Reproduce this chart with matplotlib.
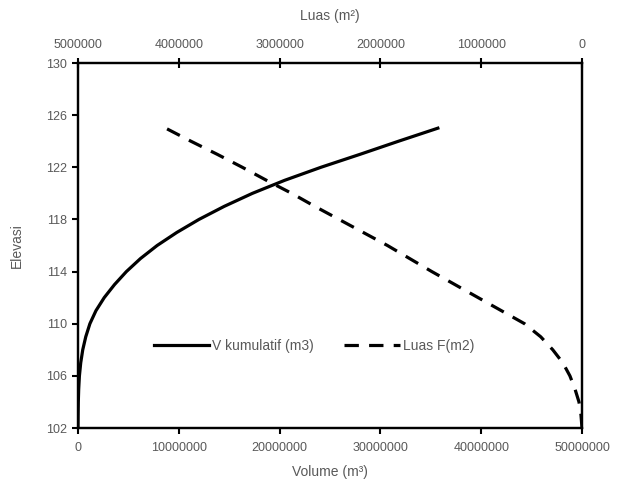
import matplotlib
matplotlib.use("Agg")
import matplotlib.pyplot as plt
from matplotlib.ticker import FuncFormatter

elevasi = [102, 103, 104, 105, 106, 107, 108, 109, 110, 111, 112, 113,
           114, 115, 116, 117, 118, 119, 120, 121, 122, 123, 124, 125]
volume = [0, 0.01e6, 0.03e6, 0.07e6, 0.14e6, 0.27e6, 0.47e6, 0.77e6, 1.18e6,
          1.78e6, 2.6e6, 3.62e6, 4.8e6, 6.2e6, 7.85e6, 9.8e6, 12.0e6, 14.5e6,
          17.3e6, 20.5e6, 24.1e6, 28.0e6, 31.8e6, 35.7e6]
luas = [0, 0.01e6, 0.03e6, 0.07e6, 0.12e6, 0.19e6, 0.29e6, 0.41e6, 0.57e6,
        0.80e6, 1.03e6, 1.26e6, 1.49e6, 1.71e6, 1.93e6, 2.17e6, 2.41e6,
        2.65e6, 2.88e6, 3.13e6, 3.37e6, 3.62e6, 3.88e6, 4.13e6]

vol_ticks = [0, 10000000, 20000000, 30000000, 40000000, 50000000]
luas_ticks = [5000000, 4000000, 3000000, 2000000, 1000000, 0]
elev_ticks = [102, 106, 110, 114, 118, 122, 126, 130]

plt.rcParams['font.family'] = ['Liberation Sans', 'DejaVu Sans']
txt = '#595959'

fig = plt.figure(figsize=(6.24, 4.91), dpi=100)
ax = fig.add_axes([78/624, 1 - 428/491, 504/624, 365/491])
ax2 = ax.twiny()

l1, = ax.plot(volume, elevasi, color='black', lw=2.3, label='V kumulatif (m3)')
l2, = ax2.plot(luas, elevasi, color='black', lw=2.3, ls=(0, (4.5, 3.2)),
               label='Luas F(m2)')

ax.set_xlim(0, 50000000)
ax.set_ylim(102, 130)
ax2.set_xlim(5000000, 0)
ax.set_xticks(vol_ticks)
ax2.set_xticks(luas_ticks)
ax.set_yticks(elev_ticks)

fmt = FuncFormatter(lambda v, p: f"{int(round(v))}")
ax.xaxis.set_major_formatter(fmt)
ax2.xaxis.set_major_formatter(fmt)

for a in (ax, ax2):
    for s in a.spines.values():
        s.set_linewidth(1.6)
        s.set_color('black')

ax.tick_params(axis='x', direction='out', length=4, width=1.5, labelsize=9,
               labelcolor=txt, pad=6)
ax.tick_params(axis='y', direction='out', length=4, width=1.5, labelsize=9,
               labelcolor=txt, pad=4)
ax2.tick_params(axis='x', direction='inout', length=7, width=1.5, labelsize=9,
                labelcolor=txt, pad=5)

ax.set_xlabel('Volume (m³)', fontsize=10, color=txt, labelpad=8)
ax.set_ylabel('Elevasi', fontsize=10, color=txt, labelpad=16)
ax2.set_xlabel('Luas (m²)', fontsize=10, color=txt, labelpad=14)

leg = ax.legend(handles=[l1, l2], loc='center', ncol=2, frameon=False,
                bbox_to_anchor=(0.468, 0.225), fontsize=10, handlelength=4.0,
                columnspacing=2.2, handletextpad=0.2, labelcolor=txt)

fig.savefig('out.png', dpi=100)
